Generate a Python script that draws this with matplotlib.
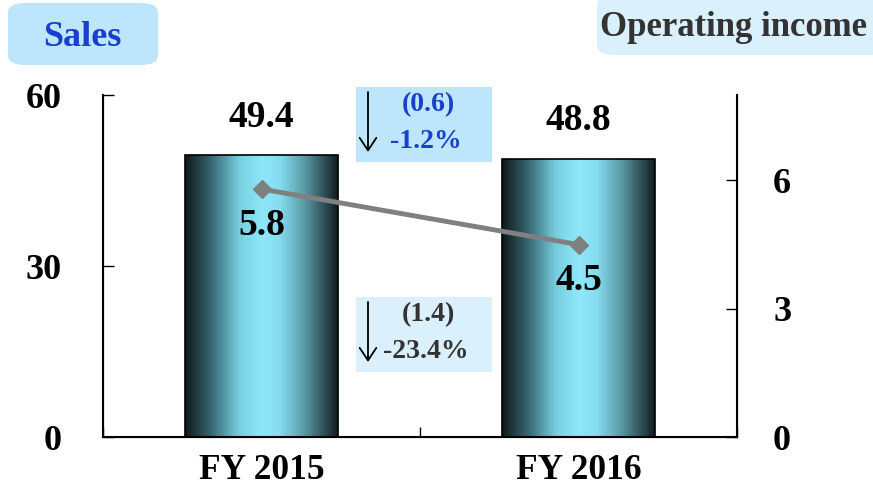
import numpy as np
import matplotlib
matplotlib.use('Agg')
from matplotlib import pyplot as plt
from matplotlib.patches import FancyBboxPatch
from matplotlib.colors import LinearSegmentedColormap

# Data
years = ['FY 2015', 'FY 2016']
sales = [49.4, 48.8]
op_income = [5.8, 4.5]
sales_change = ['(0.6)', '-1.2%']
income_change = ['(1.4)', '-23.4%']

plt.rcParams['font.family'] = 'Liberation Serif'
plt.rcParams['font.weight'] = 'bold'

fig = plt.figure(figsize=(8.73, 4.9), dpi=100)
ax = fig.add_axes([103/873, 1-437/490, 634/873, 342/490])
ax2 = ax.twinx()

x = np.arange(len(years)) + 0.5
bars = ax.bar(x, sales, width=0.48, color='none', edgecolor='black', linewidth=1.2, zorder=3)

# horizontal gradient inside each bar
grad = LinearSegmentedColormap.from_list('g', [(0.0, '#0e171a'), (0.18, '#3a6c77'), (0.35, '#76cddd'),
                                               (0.5, '#8ee8fa'), (0.62, '#86dcee'), (0.78, '#5a9ba7'),
                                               (1.0, '#121d21')])
g = np.linspace(0, 1, 256).reshape(1, -1)
for b in bars:
    im = ax.imshow(g, cmap=grad, aspect='auto', zorder=2,
                   extent=[b.get_x(), b.get_x()+b.get_width(), 0, b.get_height()])
    im.set_clip_path(b)
for xi, v in zip(x, sales):
    ax.text(xi, v + 3.6, f'{v}', ha='center', va='bottom', fontsize=27, fontweight='bold')

ax.set_xlim(0, 2)
ax.set_ylim(0, 60)
ax.set_yticks([0, 30, 60])
ax.set_xticks([0, 1, 2])
ax.set_xticks(x, minor=True)
ax.set_xticklabels([])
ax.set_xticklabels(years, minor=True)
ax.tick_params(axis='x', which='major', direction='in', length=7, width=1)
ax.tick_params(axis='x', which='minor', length=0, pad=12, labelsize=25.5)
ax.tick_params(axis='y', direction='in', length=8, width=1, pad=30, labelsize=26)
ax.spines['top'].set_visible(False)
for s in ['left', 'bottom']:
    ax.spines[s].set_linewidth(1.5)

# operating income line
ax2.plot(x, op_income, color='#808080', lw=3.5, marker='D', markersize=9, zorder=5)
for xi, v in zip(x, op_income):
    ax2.text(xi, v - 0.85, f'{v}', ha='center', va='center', fontsize=27, fontweight='bold')
ax2.set_ylim(0, 8)
ax2.set_yticks([0, 3, 6])
ax2.tick_params(axis='y', direction='in', length=8, width=1, pad=26, labelsize=26)
ax2.spines['top'].set_visible(False)
ax2.spines['right'].set_linewidth(1.5)
ax.set_zorder(1)
ax2.set_zorder(2)
ax2.patch.set_visible(False)

# header boxes
fig.patches.append(FancyBboxPatch((8/873, 1-65/490), 150/873, 62/490,
                                  boxstyle='round,pad=0,rounding_size=0.02', transform=fig.transFigure,
                                  facecolor='#bde6fd', edgecolor='none'))
fig.text(82/873, 1-37/490, 'Sales', ha='center', va='center', fontsize=26,
         fontweight='bold', color='#1a3fcc')
fig.patches.append(FancyBboxPatch((597/873, 1-55/490), 290/873, 60/490,
                                  boxstyle='round,pad=0,rounding_size=0.02', transform=fig.transFigure,
                                  facecolor='#dbf0fd', edgecolor='none'))
fig.text(734/873, 1-27/490, 'Operating income', ha='center', va='center', fontsize=25,
         fontweight='bold', color='#333333')

# change boxes
def change_box(y_top, color, text_color, labels):
    fig.patches.append(plt.Rectangle((356/873, 1-(y_top+75)/490), 136/873, 75/490,
                                     transform=fig.transFigure, facecolor=color, edgecolor='none'))
    fig.add_artist(plt.Annotation('', xy=(368/873, 1-(y_top+65)/490), xytext=(368/873, 1-(y_top+5)/490),
                                  xycoords='figure fraction', textcoords='figure fraction',
                                  arrowprops=dict(arrowstyle='->,head_length=0.45,head_width=0.3',
                                                  mutation_scale=20, lw=1.3, color='black',
                                                  shrinkA=0, shrinkB=0)))
    fig.text(428/873, 1-(y_top+18)/490, labels[0], ha='center', va='center', fontsize=20, color=text_color)
    fig.text(426/873, 1-(y_top+55)/490, labels[1], ha='center', va='center', fontsize=20, color=text_color)

change_box(87, '#bde6fd', '#1a3fcc', sales_change)
change_box(297, '#dbf0fd', '#333333', income_change)

fig.savefig('out.png', dpi=100)
